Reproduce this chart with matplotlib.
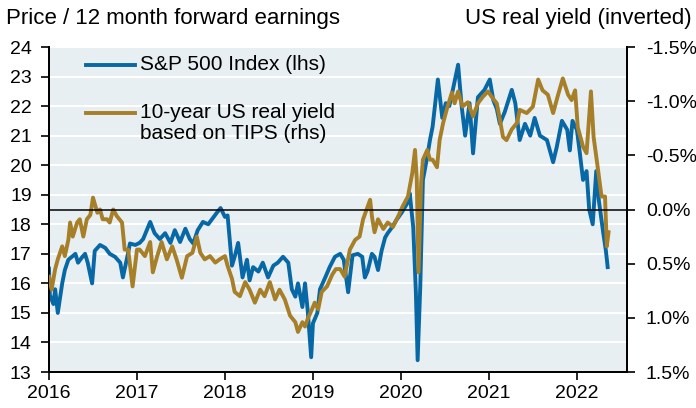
import matplotlib
matplotlib.use("Agg")
import matplotlib.pyplot as plt
from matplotlib.ticker import FuncFormatter, MultipleLocator

plt.rcParams['font.family'] = ['Liberation Sans', 'DejaVu Sans']

# S&P 500 price / 12m forward earnings (lhs), decimal years
spx_t = [2016.00, 2016.01, 2016.05, 2016.07, 2016.10, 2016.15, 2016.18, 2016.22, 2016.26, 2016.30,
         2016.33, 2016.38, 2016.41, 2016.44, 2016.49, 2016.52, 2016.58, 2016.64, 2016.69, 2016.75,
         2016.81, 2016.84, 2016.89, 2016.92, 2016.98, 2017.03, 2017.07, 2017.15, 2017.20, 2017.26,
         2017.32, 2017.38, 2017.43, 2017.49, 2017.55, 2017.60, 2017.64, 2017.69, 2017.75, 2017.81,
         2017.86, 2017.91, 2017.95, 2018.00, 2018.03, 2018.08, 2018.11, 2018.15, 2018.20, 2018.25,
         2018.28, 2018.32, 2018.38, 2018.43, 2018.49, 2018.55, 2018.60, 2018.66, 2018.72, 2018.76,
         2018.80, 2018.83, 2018.88, 2018.91, 2018.94, 2018.98, 2019.00, 2019.05, 2019.08, 2019.14,
         2019.19, 2019.25, 2019.31, 2019.35, 2019.40, 2019.45, 2019.51, 2019.56, 2019.59, 2019.62,
         2019.67, 2019.70, 2019.74, 2019.78, 2019.82, 2019.85, 2019.90, 2019.95, 2020.01, 2020.07,
         2020.10, 2020.14, 2020.17, 2020.19, 2020.22, 2020.25, 2020.30, 2020.33, 2020.36, 2020.42,
         2020.47, 2020.51, 2020.55, 2020.59, 2020.65, 2020.69, 2020.73, 2020.78, 2020.82, 2020.875,
         2020.95, 2021.01, 2021.05, 2021.09, 2021.125, 2021.18, 2021.26, 2021.30, 2021.35, 2021.41,
         2021.47, 2021.52, 2021.58, 2021.66, 2021.73, 2021.77, 2021.83, 2021.89, 2021.92, 2021.95,
         2022.00, 2022.03, 2022.07, 2022.11, 2022.14, 2022.18, 2022.22, 2022.25, 2022.30, 2022.33,
         2022.35]
spx_pe = [16.5, 15.6, 15.3, 15.8, 15.0, 16.0, 16.45, 16.8, 16.9, 17.0,
          16.7, 16.9, 17.0, 16.7, 16.0, 17.1, 17.3, 17.2, 17.0, 16.9,
          16.7, 16.2, 16.9, 17.35, 17.3, 17.37, 17.5, 18.08, 17.7, 17.5,
          17.7, 17.37, 17.8, 17.4, 17.85, 17.5, 17.35, 17.8, 18.08, 18.0,
          18.2, 18.4, 18.55, 18.25, 18.3, 16.6, 16.9, 17.37, 16.2, 16.8,
          16.1, 16.55, 16.4, 16.7, 16.2, 16.6, 16.7, 16.9, 16.7, 15.8,
          15.55, 16.0, 15.2, 16.0, 15.1, 13.5, 14.65, 15.0, 15.8, 16.2,
          16.55, 16.9, 17.0, 16.8, 15.7, 16.95, 17.0, 16.9, 16.2, 16.4,
          17.0, 16.9, 16.45, 17.1, 17.55, 17.7, 17.9, 18.15, 18.4, 18.7,
          19.05, 17.9, 15.7, 13.4, 15.9, 19.5, 20.3, 20.85, 21.3, 22.9,
          21.6, 22.1, 22.0, 22.55, 23.4, 22.0, 21.0, 22.1, 20.4, 22.3,
          22.55, 22.9, 22.2, 21.9, 21.4, 21.8, 22.55, 22.1, 20.85, 21.4,
          21.0, 21.6, 21.0, 20.85, 20.1, 20.6, 21.5, 21.2, 20.5, 21.5,
          21.2, 20.5, 19.5, 19.8, 18.5, 18.0, 19.8, 18.8, 17.7, 17.1,
          16.55]

# 10-year US real yield based on TIPS, % (rhs, inverted)
tips_t = [2016.00, 2016.03, 2016.07, 2016.10, 2016.15, 2016.18, 2016.22, 2016.24, 2016.27, 2016.32,
          2016.35, 2016.39, 2016.43, 2016.47, 2016.50, 2016.55, 2016.58, 2016.61, 2016.66, 2016.69,
          2016.73, 2016.77, 2016.83, 2016.86, 2016.90, 2016.95, 2017.00, 2017.03, 2017.09, 2017.15,
          2017.18, 2017.23, 2017.28, 2017.34, 2017.40, 2017.45, 2017.51, 2017.57, 2017.63, 2017.68,
          2017.72, 2017.77, 2017.83, 2017.89, 2017.94, 2018.00, 2018.03, 2018.08, 2018.11, 2018.17,
          2018.23, 2018.28, 2018.34, 2018.40, 2018.45, 2018.51, 2018.57, 2018.62, 2018.68, 2018.74,
          2018.80, 2018.83, 2018.88, 2018.91, 2018.94, 2018.99, 2019.02, 2019.06, 2019.10, 2019.16,
          2019.22, 2019.26, 2019.31, 2019.36, 2019.42, 2019.48, 2019.53, 2019.57, 2019.61, 2019.65,
          2019.67, 2019.70, 2019.74, 2019.80, 2019.85, 2019.91, 2019.97, 2020.02, 2020.08, 2020.13,
          2020.16, 2020.18, 2020.20, 2020.23, 2020.25, 2020.30, 2020.33, 2020.36, 2020.41, 2020.44,
          2020.48, 2020.53, 2020.58, 2020.61, 2020.65, 2020.70, 2020.76, 2020.82, 2020.875, 2020.93,
          2020.99, 2021.05, 2021.09, 2021.125, 2021.16, 2021.20, 2021.26, 2021.32, 2021.35, 2021.43,
          2021.50, 2021.56, 2021.61, 2021.67, 2021.73, 2021.78, 2021.84, 2021.90, 2021.94, 2021.98,
          2022.01, 2022.07, 2022.11, 2022.16, 2022.19, 2022.24, 2022.28, 2022.32, 2022.34, 2022.36]
tips_yld = [0.62, 0.74, 0.55, 0.46, 0.34, 0.43, 0.28, 0.12, 0.25, 0.12,
            0.09, 0.25, 0.09, 0.05, -0.11, 0.03, 0.0, 0.09, 0.09, 0.12,
            0.0, 0.06, 0.12, 0.37, 0.37, 0.71, 0.37, 0.37, 0.43, 0.30,
            0.58, 0.43, 0.30, 0.46, 0.34, 0.46, 0.63, 0.43, 0.40, 0.25,
            0.40, 0.46, 0.43, 0.49, 0.46, 0.43, 0.52, 0.64, 0.76, 0.80,
            0.67, 0.74, 0.86, 0.74, 0.80, 0.67, 0.83, 0.74, 0.83, 0.98,
            1.04, 1.13, 1.04, 1.08, 1.01, 0.92, 0.86, 0.92, 0.76, 0.71,
            0.60, 0.55, 0.55, 0.62, 0.37, 0.28, 0.25, 0.09, 0.0, -0.09,
            0.06, 0.21, 0.09, 0.18, 0.12, 0.16, 0.06, -0.03, -0.12, -0.34,
            -0.55, -0.28, 0.58, -0.25, -0.46, -0.55, -0.46, -0.46, -0.39, -0.64,
            -0.80, -0.95, -1.08, -0.98, -1.09, -0.95, -0.99, -0.86, -0.98, -1.04,
            -1.09, -1.02, -0.98, -0.83, -0.67, -0.64, -0.74, -0.80, -0.92, -0.89,
            -0.95, -1.20, -1.10, -1.06, -0.89, -1.04, -1.21, -1.06, -1.01, -1.10,
            -0.76, -0.58, -0.52, -1.09, -0.67, -0.37, -0.12, -0.12, 0.34, 0.21]

years = [2016, 2017, 2018, 2019, 2020, 2021, 2022]

blue = '#0868a6'
gold = '#a67f28'

fig = plt.figure(figsize=(6.96, 4.08), dpi=100)
ax = fig.add_axes([0.0704, 0.0882, 0.8305, 0.7966])
ax.set_facecolor('#e7eff3')
ax2 = ax.twinx()

ax.plot(spx_t, spx_pe, color=blue, lw=2.8, zorder=3)
ax2.plot(tips_t, tips_yld, color=gold, lw=2.8, zorder=3)
ax2.axhline(0, color='black', lw=1.1, zorder=5)

ax.set_xlim(2016, 2022.57)
ax.set_ylim(13, 24)
ax.yaxis.set_major_locator(MultipleLocator(1))
ax.set_xticks(years)
ax.set_xticklabels([str(y) for y in years])
ax.grid(axis='y', color='white', lw=1.5)
ax.set_axisbelow(True)

ax2.set_ylim(1.5, -1.5)
ax2.yaxis.set_major_locator(MultipleLocator(0.5))
ax2.yaxis.set_major_formatter(FuncFormatter(lambda v, p: f"{v + 0.0:.1f}%"))

for a in (ax, ax2):
    a.spines['top'].set_visible(False)
    for s in ('left', 'right', 'bottom'):
        a.spines[s].set_linewidth(1.3)
        a.spines[s].set_color('black')
    a.tick_params(labelsize=14, colors='black', length=5.5, width=1.2, direction='out')
ax.tick_params(axis='y', pad=7)
ax.tick_params(axis='x', pad=4)
ax2.tick_params(axis='y', pad=8)

# legend drawn by hand so the gold key sits on the first line of its label
ax.plot([0.064, 0.149], [0.945, 0.945], transform=ax.transAxes, color=blue, lw=2.8, zorder=6)
ax.text(0.158, 0.945, 'S&P 500 Index (lhs)', transform=ax.transAxes, fontsize=15,
        va='center', ha='left', zorder=6)
ax.plot([0.064, 0.149], [0.797, 0.797], transform=ax.transAxes, color=gold, lw=2.8, zorder=6)
ax.text(0.158, 0.797, '10-year US real yield', transform=ax.transAxes, fontsize=15,
        va='center', ha='left', zorder=6)
ax.text(0.158, 0.735, 'based on TIPS (rhs)', transform=ax.transAxes, fontsize=15,
        va='center', ha='left', zorder=6)

fig.text(0.008, 0.94, 'Price / 12 month forward earnings', fontsize=16, ha='left', va='baseline')
fig.text(0.993, 0.94, 'US real yield (inverted)', fontsize=16, ha='right', va='baseline')

fig.savefig('out.png', dpi=100)
